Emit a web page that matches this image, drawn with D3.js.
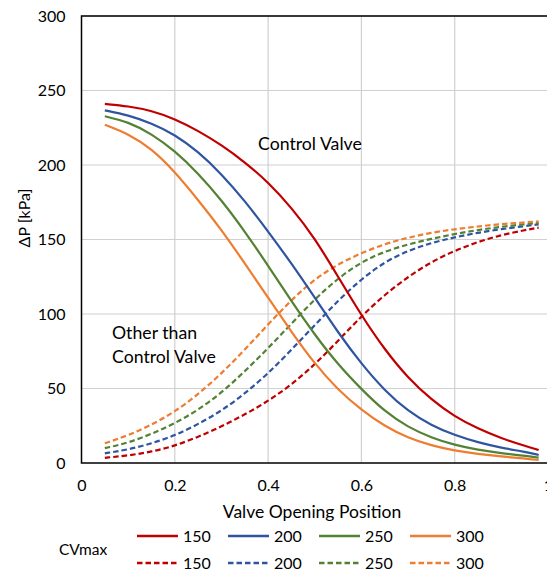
<!DOCTYPE html>
<html>
<head>
<meta charset="utf-8">
<script src="https://cdn.jsdelivr.net/npm/d3@7"></script>
<style>
  body { margin: 0; background: #fff; }
  text { font-family: Lato, "Open Sans", sans-serif; fill: #000; }
</style>
</head>
<body>
<div id="chart"></div>
<script>
// valve opening positions (x)
const openings = [0.05, 0.1, 0.15, 0.2, 0.25, 0.3, 0.35, 0.4, 0.45, 0.5,
                  0.55, 0.6, 0.65, 0.7, 0.75, 0.8, 0.85, 0.9, 0.95, 0.98];

const cvMaxValues = ["150", "200", "250", "300"];

// dP across the control valve [kPa]
const valve150 = [241, 239.5, 236.5, 231, 223, 213.5, 202, 188.5, 171.5, 151,
                  125, 99, 76, 57, 42.5, 31, 23, 16.5, 11.5, 8.7];
const valve200 = [236.7, 233.5, 228, 220.5, 209, 194, 176, 155.5, 134, 111,
                  87.5, 66.5, 48.5, 34.8, 25.2, 18.6, 13.8, 10.2, 7.5, 5.4];
const valve250 = [232.7, 229, 221, 209.5, 194.5, 176.5, 155.5, 132.5, 108.5, 86,
                  66, 49.5, 34.5, 24, 17, 12, 8.8, 6.5, 4.9, 3.6];
const valve300 = [227, 221, 211, 195.5, 176.5, 156.5, 134, 111, 88, 66.5,
                  49, 35.6, 24.6, 16.8, 11.7, 8.3, 6, 4.3, 3.1, 2];

// dP of everything other than the control valve [kPa]
const other150 = [3.5, 5, 7.5, 11.5, 17.5, 24.5, 32.5, 41.5, 52.5, 66,
                  82, 98.5, 113, 125, 135, 142.5, 148.5, 153, 156.3, 158];
const other200 = [6.5, 9, 13, 18.5, 26, 35, 46.5, 60, 76, 92.5,
                  109, 123.5, 135, 142.5, 147.8, 151.5, 154.6, 157, 159, 160.2];
const other250 = [10, 13.5, 19.5, 26.5, 35.6, 47, 61.5, 77, 93.5, 110,
                  124, 135, 142, 146.8, 150.5, 153.7, 156.4, 158.6, 160.2, 161.2];
const other300 = [13.2, 18.5, 25.5, 34.4, 46, 60, 76, 93, 109.5, 123.5,
                  133.5, 141, 147, 151.3, 154.6, 156.9, 158.8, 160.3, 161.5, 162.2];

const xTicks = [0, 0.2, 0.4, 0.6, 0.8, 1];
const yTicks = [0, 50, 100, 150, 200, 250, 300];

const colors = ["#c00000", "#2f55a0", "#548235", "#ed7d31"];

const W = 547, H = 571;
const svg = d3.select("#chart").append("svg").attr("width", W).attr("height", H);

let x = d3.scaleLinear().domain([0, 1]).range([81.5, 548]);
let y = d3.scaleLinear().domain([0, 300]).range([463, 16]);

// grid
let grid = svg.append("g").attr("class", "grid");
grid.selectAll("line.v").data(xTicks.slice(1)).enter().append("line")
  .attr("x1", d => x(d)).attr("x2", d => x(d))
  .attr("y1", y(0)).attr("y2", y(300))
  .attr("stroke", "#d0d0d0").attr("stroke-width", 1.2);
grid.selectAll("line.h").data(yTicks.slice(1)).enter().append("line")
  .attr("x1", x(0)).attr("x2", x(1))
  .attr("y1", d => y(d)).attr("y2", d => y(d))
  .attr("stroke", "#d0d0d0").attr("stroke-width", 1.2);

// axes
let xAxis = svg.append("g").attr("transform", `translate(0,${y(0)})`)
  .call(d3.axisBottom(x).tickValues(xTicks).tickSize(0).tickPadding(17)
        .tickFormat(d => d3.format("")(d)));
xAxis.select(".domain").remove();
xAxis.selectAll("text").style("font-size", "16px");

let yAxis = svg.append("g").attr("transform", `translate(${x(0)},0)`)
  .call(d3.axisLeft(y).tickValues(yTicks).tickSize(0).tickPadding(16));
yAxis.select(".domain").remove();
yAxis.selectAll("text").style("font-size", "16px");

// plot border
svg.append("rect")
  .attr("x", x(0)).attr("y", y(300))
  .attr("width", x(1) - x(0)).attr("height", y(0) - y(300))
  .attr("fill", "none").attr("stroke", "#000").attr("stroke-width", 1.5);

// curves
let line = d3.line()
  .x((d, i) => x(openings[i]))
  .y(d => y(d))
  .curve(d3.curveBasis);

const valveSeries = [valve150, valve200, valve250, valve300];
const otherSeries = [other150, other200, other250, other300];

let lines = svg.append("g").attr("fill", "none").attr("stroke-width", 2.2);
otherSeries.forEach((s, i) => {
  lines.append("path").attr("d", line(s))
    .attr("stroke", colors[i]).attr("stroke-dasharray", "5.5,3");
});
valveSeries.forEach((s, i) => {
  lines.append("path").attr("d", line(s)).attr("stroke", colors[i]);
});

// annotations
svg.append("text").attr("x", 258).attr("y", 150).style("font-size", "17.7px")
  .text("Control Valve");
svg.append("text").attr("x", 112).attr("y", 339).style("font-size", "17.7px")
  .text("Other than");
svg.append("text").attr("x", 112).attr("y", 363).style("font-size", "17.7px")
  .text("Control Valve");

// axis titles
svg.append("text").attr("x", 312).attr("y", 518).attr("text-anchor", "middle")
  .style("font-size", "17.5px").text("Valve Opening Position");
svg.append("text").attr("transform", "translate(30,218) rotate(-90)")
  .attr("text-anchor", "middle").style("font-size", "16px").text("ΔP [kPa]");

// legend
let legend = svg.append("g");
legend.append("text").attr("x", 59).attr("y", 555).style("font-size", "15.5px").text("CVmax");
[536, 563].forEach((ly, row) => {
  cvMaxValues.forEach((v, i) => {
    let lx = 137 + i * 91;
    legend.append("line")
      .attr("x1", lx).attr("x2", lx + 41).attr("y1", ly).attr("y2", ly)
      .attr("stroke", colors[i]).attr("stroke-width", 2.4)
      .attr("stroke-dasharray", row === 1 ? "5.5,3" : null);
    legend.append("text").attr("x", lx + 46).attr("y", ly + 6)
      .style("font-size", "16px").text(v);
  });
});
</script>
</body>
</html>
